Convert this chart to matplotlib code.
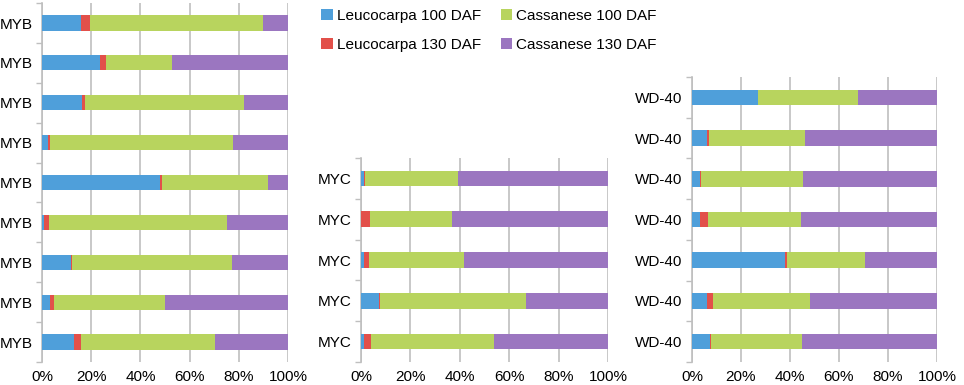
import matplotlib
matplotlib.use("Agg")
import matplotlib.pyplot as plt
import numpy as np

plt.rcParams["font.family"] = ["Liberation Sans", "DejaVu Sans"]
plt.rcParams["font.size"] = 11

series_names = ["Leucocarpa 100 DAF", "Leucocarpa 130 DAF",
                "Cassanese 100 DAF", "Cassanese 130 DAF"]
colors = ["#4f9fda", "#e2504a", "#b8d45e", "#9b76c0"]

# panel 1: MYB (top to bottom), percent per series
myb_labels = ["MYB"] * 9
myb_l100 = [16.0, 23.7, 16.4, 2.4, 48.1, 0.8, 11.7, 3.3, 12.9]
myb_l130 = [3.4, 2.5, 0.9, 0.9, 0.5, 2.0, 0.6, 1.4, 3.0]
myb_c100 = [70.6, 26.8, 64.8, 74.5, 43.3, 72.5, 64.9, 45.3, 54.6]
myb_c130 = [10.0, 47.0, 17.9, 22.2, 8.1, 24.7, 22.8, 50.0, 29.5]

# panel 2: MYC
myc_labels = ["MYC"] * 5
myc_l100 = [1.1, 0.0, 1.4, 7.3, 1.4]
myc_l130 = [0.7, 3.7, 1.7, 0.3, 2.8]
myc_c100 = [37.4, 33.2, 38.5, 59.3, 49.7]
myc_c130 = [60.8, 63.1, 58.4, 33.1, 46.1]

# panel 3: WD-40
wd_labels = ["WD-40"] * 7
wd_l100 = [26.8, 6.1, 3.3, 3.4, 38.1, 6.1, 7.2]
wd_l130 = [0.1, 1.0, 0.4, 3.3, 0.6, 2.5, 0.5]
wd_c100 = [40.7, 38.9, 41.8, 37.8, 31.8, 39.4, 37.1]
wd_c130 = [32.4, 54.0, 54.5, 55.5, 29.5, 52.0, 55.2]

panels = [
    ([0.0436, 0.0597, 0.2552, 0.9323], myb_labels, [myb_l100, myb_l130, myb_c100, myb_c130]),
    ([0.3745, 0.0597, 0.2562, 0.5299], myc_labels, [myc_l100, myc_l130, myc_c100, myc_c130]),
    ([0.7178, 0.0597, 0.2542, 0.7403], wd_labels, [wd_l100, wd_l130, wd_c100, wd_c130]),
]

fig = plt.figure(figsize=(9.64, 3.85), dpi=100)
grid_col = "#bfbfbf"
handles = []
for rect, labels, data in panels:
    ax = fig.add_axes(rect)
    n = len(labels)
    y = np.arange(n)
    left = np.zeros(n)
    hs = []
    for vals, name, col in zip(data, series_names, colors):
        b = ax.barh(y, vals, height=0.38, left=left, color=col, label=name, zorder=3)
        hs.append(b)
        left = left + np.array(vals)
    handles = hs
    ax.set_xlim(0, 100)
    ax.set_ylim(n - 0.5, -0.5)
    ax.set_xticks(np.arange(0, 101, 20))
    ax.set_xticklabels([f"{v}%" for v in range(0, 101, 20)])
    ax.set_yticks(y)
    ax.set_yticklabels(labels)
    ax.set_yticks(np.arange(-0.5, n, 1.0), minor=True)
    ax.tick_params(axis="y", which="major", length=0, pad=7)
    ax.tick_params(axis="y", which="minor", length=4, color=grid_col, width=1)
    ax.tick_params(axis="x", length=0, pad=6)
    ax.grid(axis="x", color=grid_col, linewidth=1.2, zorder=0)
    for s in ["top", "right", "bottom"]:
        ax.spines[s].set_visible(False)
    ax.spines["left"].set_color(grid_col)
    ax.spines["left"].set_linewidth(1.2)

fig.legend(handles, series_names, ncol=2, loc="upper left",
           bbox_to_anchor=(0.319, 1.012), frameon=False,
           handlelength=0.75, handleheight=0.75, handletextpad=0.25,
           columnspacing=1.3, labelspacing=0.95, fontsize=11)

fig.savefig("out.png", dpi=100)
